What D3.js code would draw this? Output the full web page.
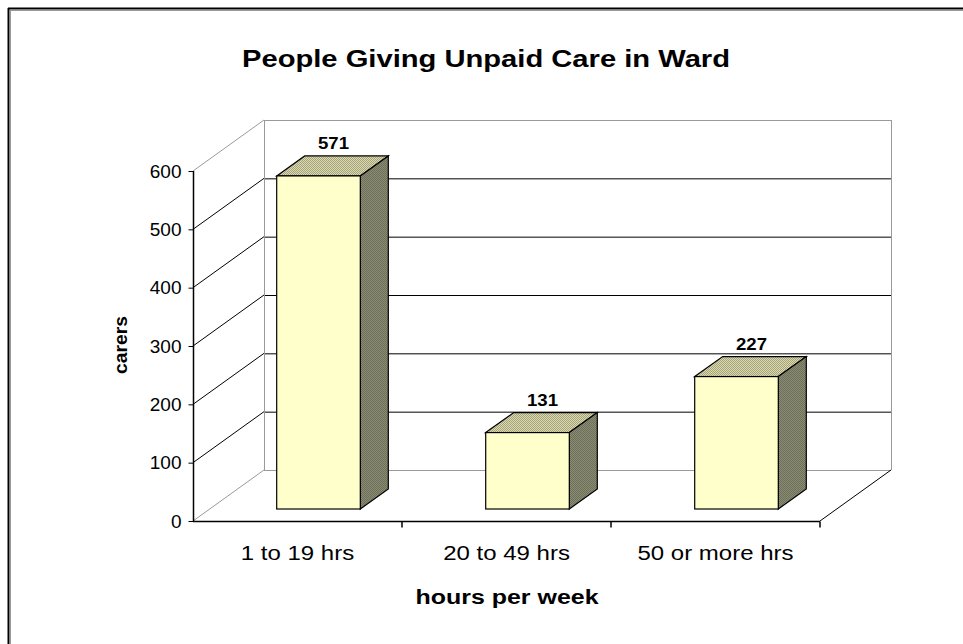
<!DOCTYPE html>
<html>
<head>
<meta charset="utf-8">
<script src="https://cdn.jsdelivr.net/npm/d3@7"></script>
<style>
  body { margin: 0; background: #fff; }
  svg { display: block; font-family: "Liberation Sans", Arial, sans-serif; }
</style>
</head>
<body>
<div id="chart"></div>
<script>
const categories = ['1 to 19 hrs', '20 to 49 hrs', '50 or more hrs'];
const carers = [571, 131, 227];
const yTicks = [0, 100, 200, 300, 400, 500, 600];

const W = 963, H = 644;
// front axis box and 3d depth of the wall
const x0 = 193, x1 = 820, yBase = 521, yTop = 171;
const depth = { dx: 71, dy: -51 };
// bar sits a little behind the front, and has its own depth
const barOff = { dx: 21, dy: -12 };
const barDepth = { dx: 28, dy: -20 };
const font = 'Liberation Sans, Arial, sans-serif';

const svg = d3.select('#chart').append('svg')
  .attr('width', W).attr('height', H);

const defs = svg.append('defs');
function dither(id, c1, c2) {
  const p = defs.append('pattern').attr('id', id)
    .attr('width', 2).attr('height', 2).attr('patternUnits', 'userSpaceOnUse');
  p.append('rect').attr('width', 2).attr('height', 2).attr('fill', c1);
  p.append('rect').attr('width', 1).attr('height', 1).attr('fill', c2);
  p.append('rect').attr('x', 1).attr('y', 1).attr('width', 1).attr('height', 1).attr('fill', c2);
}
dither('topFill', '#dcdaa6', '#a4a284');
dither('sideFill', '#8c8c70', '#6e6e5c');

// outer frame (only top/left are visible in the picture)
svg.append('line').attr('x1', 8).attr('x2', W).attr('y1', 8.5).attr('y2', 8.5)
  .attr('stroke', '#000').attr('stroke-width', 2);
svg.append('line').attr('x1', 8.5).attr('x2', 8.5).attr('y1', 8).attr('y2', H)
  .attr('stroke', '#000').attr('stroke-width', 2);
svg.append('line').attr('x1', 10).attr('x2', W).attr('y1', 10.5).attr('y2', 10.5)
  .attr('stroke', '#999');
svg.append('line').attr('x1', 10.5).attr('x2', 10.5).attr('y1', 10).attr('y2', H)
  .attr('stroke', '#999');

const yScale = d3.scaleLinear().domain([0, 600]).range([yBase, yTop]);
const xScale = d3.scaleBand().domain(categories).range([x0, x1])
  .paddingInner(0.6).paddingOuter(0.3);

const grey = '#9a9a9a';
const g = svg.append('g');

// back wall grid lines
yTicks.forEach((t) => {
  const edge = t === 0 || t === 600;
  const y = yScale(t);
  g.append('line')
    .attr('x1', x0 + depth.dx).attr('x2', x1 + depth.dx)
    .attr('y1', y + depth.dy + 0.5).attr('y2', y + depth.dy + 0.5)
    .attr('stroke', edge ? grey : '#000');
  // side wall diagonals
  g.append('line')
    .attr('x1', x0).attr('y1', y)
    .attr('x2', x0 + depth.dx).attr('y2', y + depth.dy)
    .attr('stroke', edge ? grey : '#000');
});
// back wall verticals
[x0 + depth.dx, x1 + depth.dx].forEach((x) => {
  g.append('line').attr('x1', x + 0.5).attr('x2', x + 0.5)
    .attr('y1', yScale(600) + depth.dy).attr('y2', yScale(0) + depth.dy)
    .attr('stroke', grey);
});
// floor right edge
g.append('line').attr('x1', x1).attr('y1', yBase)
  .attr('x2', x1 + depth.dx).attr('y2', yBase + depth.dy)
  .attr('stroke', '#000');

// bars
const bars = g.selectAll('.bar').data(carers).enter().append('g').attr('class', 'bar');
const bw = xScale.bandwidth();
bars.each(function (d, i) {
  const b = d3.select(this);
  const left = xScale(categories[i]) + barOff.dx;
  const right = left + bw;
  const top = yScale(d) + barOff.dy;
  const bottom = yScale(0) + barOff.dy;
  const dx = barDepth.dx, dy = barDepth.dy;
  b.append('path')
    .attr('d', `M${left},${top}L${left + dx},${top + dy}L${right + dx},${top + dy}L${right},${top}Z`)
    .attr('fill', 'url(#topFill)').attr('stroke', '#000').attr('stroke-width', 1.2);
  b.append('path')
    .attr('d', `M${right},${top}L${right + dx},${top + dy}L${right + dx},${bottom + dy}L${right},${bottom}Z`)
    .attr('fill', 'url(#sideFill)').attr('stroke', '#000').attr('stroke-width', 1.2);
  b.append('rect')
    .attr('x', left).attr('y', top).attr('width', bw).attr('height', bottom - top)
    .attr('fill', '#ffffcc').attr('stroke', '#000').attr('stroke-width', 1.2);
  b.append('text')
    .attr('x', left + (bw + dx) / 2 + 1).attr('y', top + dy - 7)
    .attr('text-anchor', 'middle').attr('font-weight', 'bold').attr('font-size', 17)
    .attr('textLength', 31).attr('lengthAdjust', 'spacingAndGlyphs')
    .text(d);
});

// y axis
const yAxis = d3.axisLeft(yScale).tickValues(yTicks).tickSize(5).tickPadding(7);
const ya = svg.append('g').attr('transform', `translate(${x0 + 0.5},0)`).call(yAxis);
ya.select('.domain').attr('d', `M0,${yBase}V${yTop}`).attr('stroke', '#000').attr('stroke-width', 1.5);
ya.selectAll('text').attr('font-size', 19).attr('font-family', font)
  .attr('fill', '#000');

// x axis
const xAxis = d3.axisBottom(xScale).tickSize(0).tickPadding(24);
const xa = svg.append('g').attr('transform', `translate(0,${yBase + 0.5})`).call(xAxis);
xa.select('.domain').attr('d', `M${x0},0H${x1}`).attr('stroke', '#000').attr('stroke-width', 1.5);
xa.selectAll('text').attr('font-size', 20).attr('font-family', font)
  .attr('fill', '#000')
  .each(function () {
    // the source font is wider than Liberation Sans
    const len = this.getComputedTextLength();
    d3.select(this).attr('textLength', len * 1.2).attr('lengthAdjust', 'spacingAndGlyphs');
  });
categories.forEach((c) => {
  const x = xScale(c) + bw + xScale.step() * xScale.paddingInner() / 2;
  xa.append('line').attr('x1', x).attr('x2', x).attr('y1', 0).attr('y2', 6)
    .attr('stroke', '#000').attr('stroke-width', 1.5);
});

// titles
svg.append('text').attr('x', 486).attr('y', 67).attr('text-anchor', 'middle')
  .attr('font-weight', 'bold').attr('font-size', 24)
  .attr('textLength', 488).attr('lengthAdjust', 'spacingAndGlyphs')
  .text('People Giving Unpaid Care in Ward');
svg.append('text').attr('x', 507).attr('y', 604).attr('text-anchor', 'middle')
  .attr('font-weight', 'bold').attr('font-size', 20)
  .attr('textLength', 183).attr('lengthAdjust', 'spacingAndGlyphs')
  .text('hours per week');
svg.append('text').attr('transform', 'translate(127,345) rotate(-90)')
  .attr('text-anchor', 'middle').attr('font-weight', 'bold').attr('font-size', 19)
  .attr('textLength', 58).attr('lengthAdjust', 'spacingAndGlyphs')
  .text('carers');
</script>
</body>
</html>
